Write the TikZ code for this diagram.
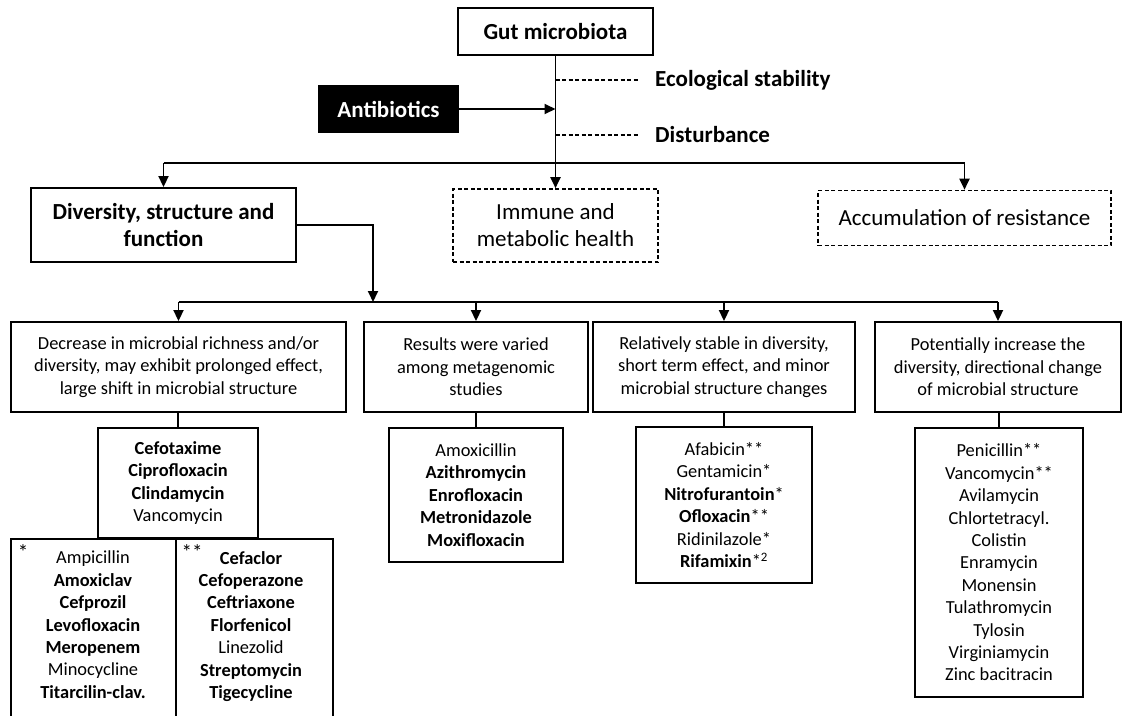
\documentclass[tikz,border=0pt]{standalone}
\usepackage{fontspec}
\setmainfont{Carlito}
\usetikzlibrary{arrows.meta}
\begin{document}
\begin{tikzpicture}[x=1pt,y=-1pt,
  big/.style={font=\fontsize{23}{27}\selectfont},
  small/.style={font=\fontsize{18.4}{22.4}\selectfont},
  box/.style={draw, line width=1.9pt, align=center, inner sep=0pt},
  dbox/.style={box, line width=1.6pt, dash pattern=on 4pt off 2.5pt},
  arr/.style={line width=1.9pt, -{Triangle[length=11pt,width=10pt]}},
  ln/.style={line width=1.9pt},
  dl/.style={line width=1.3pt, dash pattern=on 4pt off 2.5pt},
  lst/.style={small, align=center, inner sep=0pt}]
\useasboundingbox (0,0) rectangle (1123,715);

% top level
\node[box, big, minimum width=195pt, minimum height=47pt] (gut) at (555.5,31.5) {\textbf{Gut microbiota}};
\node[box, big, fill=black, text=white, minimum width=139pt, minimum height=46pt] (ab) at (388.5,109) {\textbf{Antibiotics}};
\node[big, anchor=west, inner sep=0pt] (eco) at (655,80) {\textbf{Ecological stability}};
\node[big, anchor=west, inner sep=0pt] (dis) at (655,135) {\textbf{Disturbance}};

\node[box, big, minimum width=265pt, minimum height=74pt] (div) at (163.5,225) {\textbf{Diversity, structure and}\\\textbf{function}};
\node[dbox, big, minimum width=205pt, minimum height=73pt] (imm) at (555.5,225.5) {Immune and\\metabolic health};
\node[dbox, big, minimum width=293pt, minimum height=55pt] (acc) at (964.5,218) {Accumulation of resistance};

\draw[arr] (gut.south) -- (imm.north);
\draw[arr] (ab.east) -- (ab.east -| gut.south);
\draw[dl] (gut.south |- eco.west) -- ([xshift=-17pt]eco.west);
\draw[dl] (gut.south |- dis.west) -- ([xshift=-17pt]dis.west);

\coordinate (bar1) at (555.5,163);
\draw[ln] (div.north |- bar1) -- (acc.north |- bar1);
\draw[arr] (div.north |- bar1) -- (div.north);
\draw[arr] (acc.north |- bar1) -- (acc.north);

% second level
\node[box, small, minimum width=335pt, minimum height=90pt] (c1) at (178.5,367) {Decrease in microbial richness and/or\\diversity, may exhibit prolonged effect,\\large shift in microbial structure};
\node[box, small, minimum width=224pt, minimum height=90pt] (c2) at (476,367) {Results were varied\\among metagenomic\\studies};
\node[box, small, minimum width=262pt, minimum height=90pt] (c3) at (724,367) {Relatively stable in diversity,\\short term effect, and minor\\microbial structure changes};
\node[box, small, minimum width=246pt, minimum height=90pt] (c4) at (998,367) {Potentially increase the\\diversity, directional change\\of microbial structure};

\coordinate (jn) at (373,302);
\draw[arr] (div.east) -| (jn);
\draw[ln] (c1.north |- jn) -- (c4.north |- jn);
\foreach \c in {c1,c2,c3,c4} \draw[arr] (\c.north |- jn) -- (\c.north);

% lists
\node[box, lst, minimum width=160pt, minimum height=110pt] (s1) at (178,483) {\textbf{Cefotaxime}\\\textbf{Ciprofloxacin}\\\textbf{Clindamycin}\\Vancomycin};
\node[box, lst, minimum width=174pt, minimum height=134pt] (s2) at (476,495) {Amoxicillin\\\textbf{Azithromycin}\\\textbf{Enrofloxacin}\\\textbf{Metronidazole}\\\textbf{Moxifloxacin}};
\node[box, lst, minimum width=176pt, minimum height=156pt] (s3) at (724,505) {Afabicin**\\Gentamicin*\\\textbf{Nitrofurantoin}*\\\textbf{Ofloxacin}**\\Ridinilazole*\\\textbf{Rifamixin}*\textsuperscript{2}};
\node[box, lst, minimum width=168pt, minimum height=269pt] (s4) at (999,562.5) {Penicillin**\\Vancomycin**\\Avilamycin\\Chlortetracyl.\\Colistin\\Enramycin\\Monensin\\Tulathromycin\\Tylosin\\Virginiamycin\\Zinc bacitracin};

\draw[ln] (c1.south -| s1.north) -- (s1.north);
\draw[ln] (c2.south -| s2.north) -- (s2.north);
\draw[ln] (c3.south -| s3.north) -- (s3.north);
\draw[ln] (c4.south -| s4.north) -- (s4.north);

% open boxes at the bottom
\coordinate (b1) at (11,720);
\coordinate (b2) at (176,720);
\coordinate (b3) at (333,720);
\draw[ln] (b1) |- (b2 |- s1.south) -- (b2);
\draw[ln] (b2 |- s1.south) -| (b3);

\node[lst, anchor=north] (l1) at (93,551) {Ampicillin\\\textbf{Amoxiclav}\\\textbf{Cefprozil}\\\textbf{Levofloxacin}\\\textbf{Meropenem}\\Minocycline\\\textbf{Titarcilin-clav.}};
\node[lst, anchor=north] (l2) at (251,551) {\textbf{Cefaclor}\\\textbf{Cefoperazone}\\\textbf{Ceftriaxone}\\\textbf{Florfenicol}\\Linezolid\\\textbf{Streptomycin}\\\textbf{Tigecycline}};
\node[lst, font=\fontsize{21}{22}\selectfont] (st1) at (23,552) {*};
\node[lst, font=\fontsize{21}{22}\selectfont] (st2) at (192,552) {**};
\end{tikzpicture}
\end{document}
